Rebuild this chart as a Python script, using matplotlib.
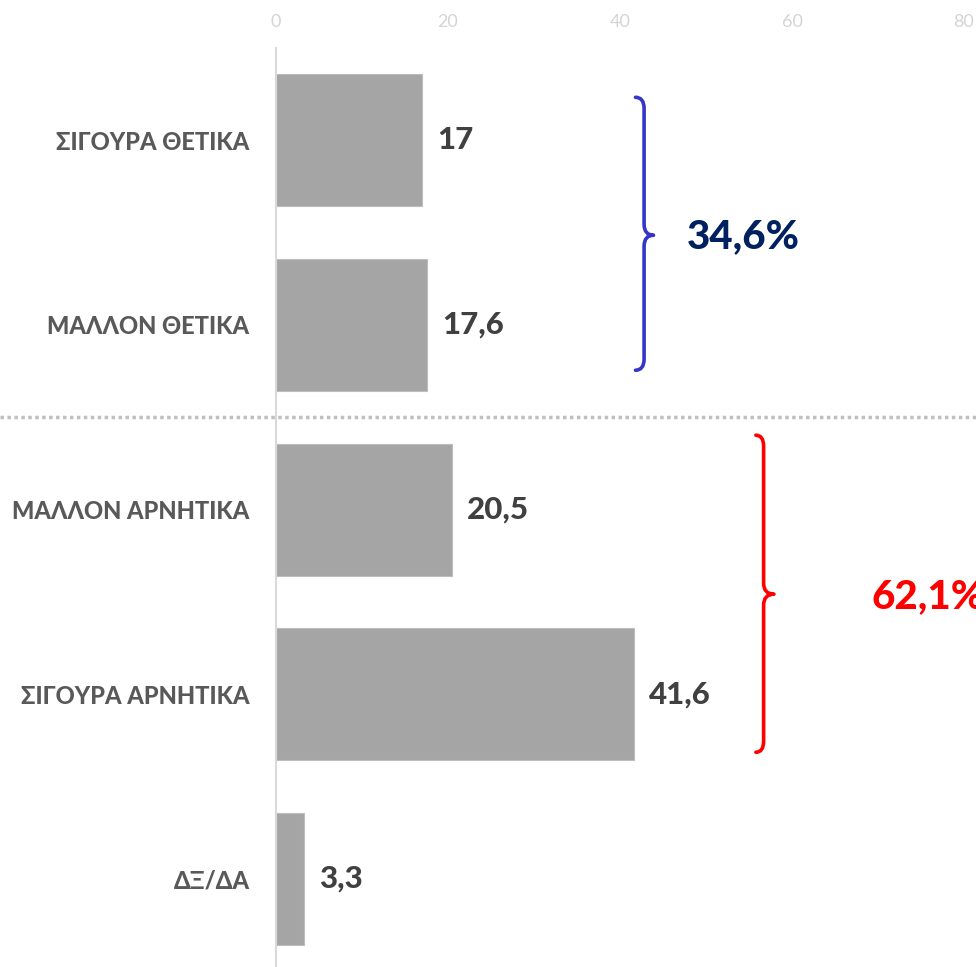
import matplotlib
matplotlib.use('Agg')

import matplotlib.pyplot as plt
from matplotlib.path import Path
from matplotlib.patches import PathPatch

# Data
categories = ['ΣΙΓΟΥΡΑ ΘΕΤΙΚΑ', 'ΜΑΛΛΟΝ ΘΕΤΙΚΑ', 'ΜΑΛΛΟΝ ΑΡΝΗΤΙΚΑ',
              'ΣΙΓΟΥΡΑ ΑΡΝΗΤΙΚΑ', 'ΔΞ/ΔΑ']
values = [17, 17.6, 20.5, 41.6, 3.3]
x_ticks = [0, 20, 40, 60, 80]
group_labels = ['34,6%', '62,1%']

plt.rcParams['font.family'] = ['Lato', 'DejaVu Sans']

W, H = 976, 967
fig = plt.figure(figsize=(W / 100, H / 100), dpi=100)
ax = fig.add_axes([276 / W, 0, (964 - 276) / W, (967 - 48) / H])

y = list(range(len(categories)))
ax.barh(y, values, height=0.715, color='#a5a5a5', edgecolor='#bdbdbd', linewidth=0.8)
ax.set_xlim(0, 80)
ax.set_ylim(4.477, -0.5)

# value labels
for i, v in enumerate(values):
    ax.text(v + 1.75, i, f'{v:g}'.replace('.', ','), va='center', ha='left',
            fontsize=22.5, fontweight='black', color='#404040')

# axis styling
ax.set_yticks(y)
ax.set_yticklabels(categories, fontsize=17, fontweight='black', color='#595959')
ax.tick_params(axis='y', length=0, pad=19)
ax.xaxis.tick_top()
ax.set_xticks(x_ticks)
ax.set_xticklabels([str(t) for t in x_ticks], fontsize=13, color='#d4d4d4')
ax.tick_params(axis='x', length=0, pad=13)
for s in ['top', 'right', 'bottom']:
    ax.spines[s].set_visible(False)
ax.spines['left'].set_color('#d9d9d9')
ax.spines['left'].set_linewidth(1.5)

# dotted separator between positive and negative
ax.axhline(1.5, xmin=-276 / 688, xmax=700 / 688, color='#bfbfbf', linestyle=(0, (1, 1)),
           linewidth=2.5, clip_on=False)


def brace(ax, x_line, x_end, x_tip, y_top, y_mid, y_bot, color):
    d = 0.06
    verts = [(x_end, y_top), (x_line, y_top), (x_line, y_top + d),
             (x_line, y_mid - d), (x_line, y_mid), (x_tip, y_mid),
             (x_line, y_mid), (x_line, y_mid + d),
             (x_line, y_bot - d), (x_line, y_bot), (x_end, y_bot)]
    codes = [Path.MOVETO, Path.CURVE3, Path.CURVE3,
             Path.LINETO, Path.CURVE3, Path.CURVE3,
             Path.CURVE3, Path.CURVE3,
             Path.LINETO, Path.CURVE3, Path.CURVE3]
    ax.add_patch(PathPatch(Path(verts, codes), facecolor='none', edgecolor=color,
                           linewidth=2.6, capstyle='round', joinstyle='round',
                           clip_on=False))


brace(ax, 42.8, 41.8, 43.9, -0.233, 0.514, 1.245, '#3535c8')
brace(ax, 56.7, 55.8, 57.9, 1.597, 2.458, 3.314, '#ff0000')

ax.text(47.8, 0.52, group_labels[0], va='center', ha='left', fontsize=29,
        fontweight='black', color='#002060')
ax.text(69.3, 2.47, group_labels[1], va='center', ha='left', fontsize=29,
        fontweight='black', color='#ff0000', clip_on=False)

fig.savefig('out.png', dpi=100)
